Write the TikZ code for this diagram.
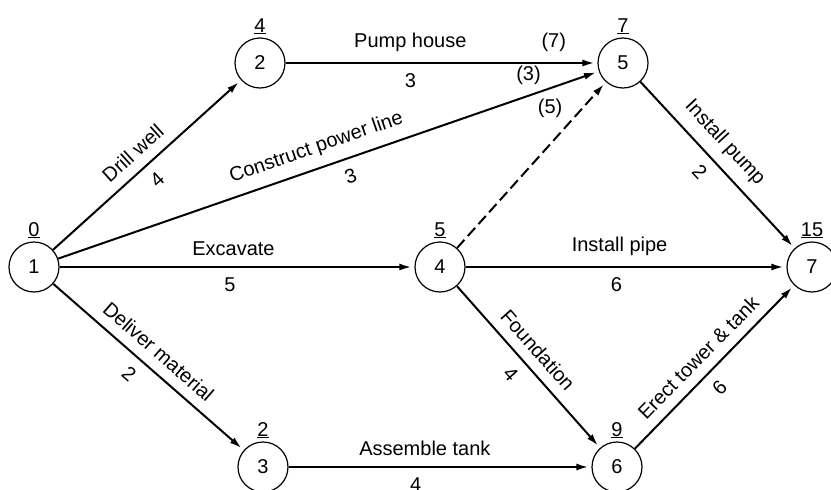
\documentclass[tikz,border=0pt]{standalone}
\usepackage{fontspec}
\setmainfont{Liberation Sans}
\usetikzlibrary{arrows.meta}
\tikzset{
	event/.style={draw, circle, line width=1.2pt, minimum size=50pt, inner sep=0pt, font=\fontsize{20}{22}\selectfont},
	tm/.style={font=\fontsize{20}{22}\selectfont, inner sep=3pt},
	act/.style={line width=2pt, -{Latex[length=12pt,width=7pt]}, shorten >=3pt},
	dummy/.style={act, dash pattern=on 11pt off 5pt},
	lbl/.style={font=\fontsize{20}{22}\selectfont, inner sep=1pt},
	lblup/.style={lbl, above=9pt},
	lbldn/.style={lbl, below=9pt}
}

\begin{document}
\begin{tikzpicture}[x=1pt, y=-1pt]
			\useasboundingbox (0,0) rectangle (831,490);
			%%%%% EVENTS %%%%%
			\node[event, label={[tm]above:\underline{0}}] (e1) at (34,267) {1};
			\node[event, label={[tm]above:\underline{4}}] (e2) at (260,63) {2};
			\node[event, label={[tm]above:\underline{2}}] (e3) at (263,467) {3};
			\node[event, label={[tm]above:\underline{5}}] (e4) at (440,267) {4};
			\node[event, label={[tm]above:\underline{7}}] (e5) at (623,63) {5};
			\node[event, label={[tm]above:\underline{9}}] (e6) at (617,467) {6};
			\node[event, label={[tm]above:\underline{15}}] (e7) at (812,267) {7};
			
			%%%%% ACTIVITIES %%%%%
			\draw[act] (e1) -- node[lblup, sloped, pos=0.49] {Drill well} node[lbldn, sloped, pos=0.49] {4} (e2);
			\draw[act] (e1) -- node[lblup, sloped, pos=0.49] {Construct power line} node[lbldn, sloped, pos=0.53] {3}
				node[lblup, pos=0.87] {(3)} node[lbldn, pos=0.91] {(5)} (e5);
			\draw[act] (e1) -- node[lblup, pos=0.49] {Excavate} node[lbldn, pos=0.48] {5} (e4);
			\draw[act] (e1) -- node[lblup, sloped, pos=0.49] {Deliver material} node[lbldn, sloped, pos=0.46] {2} (e3);
			\draw[act] (e2) -- node[lblup, pos=0.40] {Pump house} node[lbldn, pos=0.40] {3}
				node[lblup, pos=0.86] {(7)} (e5);
			\draw[act] (e3) -- node[lblup, pos=0.45] {Assemble tank} node[lbldn, pos=0.42] {4} (e6);
			\draw[dummy] (e4) -- (e5);
			\draw[act] (e4) -- node[lblup, pos=0.48] {Install pipe} node[lbldn, pos=0.47] {6} (e7);
			\draw[act] (e4) -- node[lblup, sloped, pos=0.47] {Foundation} node[lbldn, sloped, pos=0.47] {4} (e6);
			\draw[act] (e5) -- node[lblup, sloped, pos=0.45] {Install pump} node[lbldn, sloped, pos=0.47] {2} (e7);
			\draw[act] (e6) -- node[lblup, sloped, pos=0.48] {Erect tower \& tank} node[lbldn, sloped, pos=0.45] {6} (e7);
\end{tikzpicture}
\end{document}
